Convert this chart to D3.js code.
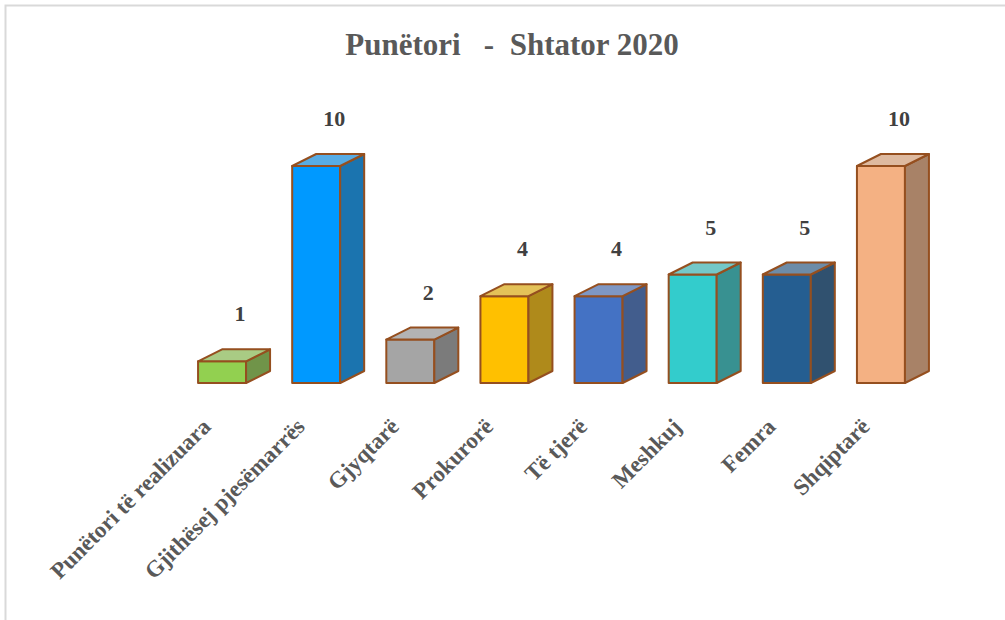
<!DOCTYPE html>
<html>
<head>
<meta charset="utf-8">
<script src="https://cdn.jsdelivr.net/npm/d3@7"></script>
<style>
  body { margin: 0; background: #fff; }
  svg { display: block; }
</style>
</head>
<body>
<div id="chart"></div>
<script>
var title = "Punëtori   -  Shtator 2020";
var categories = ["Punëtori të realizuara", "Gjithësej pjesëmarrës", "Gjyqtarë", "Prokurorë",
    "Të tjerë", "Meshkuj", "Femra", "Shqiptarë"];
var values = [1, 10, 2, 4, 4, 5, 5, 10];
var barColors = ["#92d050", "#0099ff", "#a5a5a5", "#ffc000", "#4472c4", "#33cccc", "#255e91", "#f4b183"];

var width = 1005, height = 620;
var depthX = 24, depthY = 12;

var svg = d3.select("#chart")
    .append("svg")
    .attr("width", width)
    .attr("height", height);

// chart border (top and left only visible)
svg.append("path")
    .attr("d", "M5.5,620 L5.5,5.5 L1005,5.5")
    .attr("fill", "none")
    .attr("stroke", "#d9d9d9")
    .attr("stroke-width", 2);

svg.append("text")
    .attr("x", 512)
    .attr("y", 55)
    .attr("text-anchor", "middle")
    .style("font-family", "'Liberation Serif', 'Times New Roman', serif")
    .style("font-weight", "bold")
    .style("font-size", "31px")
    .style("white-space", "pre")
    .attr("fill", "#595959")
    .text(title);

var x = d3.scaleBand()
    .domain(categories)
    .range([175, 928]);

var y = d3.scaleLinear()
    .domain([0, 10])
    .range([383, 166]);

var barW = x.bandwidth() * 0.51;

var bars = svg.selectAll("g.bar")
    .data(values)
    .enter()
    .append("g")
    .attr("class", "bar");

function left(d, i) { return x(categories[i]) + (x.bandwidth() - barW) / 2; }

// front face
bars.append("rect")
    .attr("x", function (d, i) { return left(d, i); })
    .attr("y", function (d) { return y(d); })
    .attr("width", barW)
    .attr("height", function (d) { return y(0) - y(d); })
    .attr("fill", function (d, i) { return barColors[i]; });

// side face
bars.append("polygon")
    .attr("points", function (d, i) {
        var x1 = left(d, i) + barW;
        return [[x1, y(d)], [x1 + depthX, y(d) - depthY], [x1 + depthX, y(0) - depthY], [x1, y(0)]].join(" ");
    })
    .attr("fill", function (d, i) { return d3.interpolateRgb(barColors[i], "#404040")(0.42); });

// top face
bars.append("polygon")
    .attr("points", function (d, i) {
        var x0 = left(d, i);
        return [[x0, y(d)], [x0 + depthX, y(d) - depthY], [x0 + barW + depthX, y(d) - depthY], [x0 + barW, y(d)]].join(" ");
    })
    .attr("fill", function (d, i) { return d3.interpolateRgb(barColors[i], "#c4c4c4")(0.45); });

bars.selectAll("rect, polygon")
    .attr("stroke", "#954f1f")
    .attr("stroke-width", 2)
    .attr("stroke-linejoin", "round");

// value labels
svg.selectAll("text.value")
    .data(values)
    .enter()
    .append("text")
    .attr("class", "value")
    .attr("x", function (d, i) { return x(categories[i]) + x.bandwidth() / 2 + 18; })
    .attr("y", function (d) { return y(d) - depthY - 28; })
    .attr("text-anchor", "middle")
    .style("font-family", "'Liberation Serif', 'Times New Roman', serif")
    .style("font-weight", "bold")
    .style("font-size", "22px")
    .attr("fill", "#404040")
    .text(function (d) { return d; });

// category labels
svg.selectAll("text.cat")
    .data(categories)
    .enter()
    .append("text")
    .attr("class", "cat")
    .attr("transform", function (d) {
        return "translate(" + (x(d) + x.bandwidth() / 2 - 10) + ",428)rotate(-45)";
    })
    .attr("text-anchor", "end")
    .style("font-family", "'Liberation Serif', 'Times New Roman', serif")
    .style("font-weight", "bold")
    .style("font-size", "23px")
    .attr("fill", "#595959")
    .text(function (d) { return d; });
</script>
</body>
</html>
